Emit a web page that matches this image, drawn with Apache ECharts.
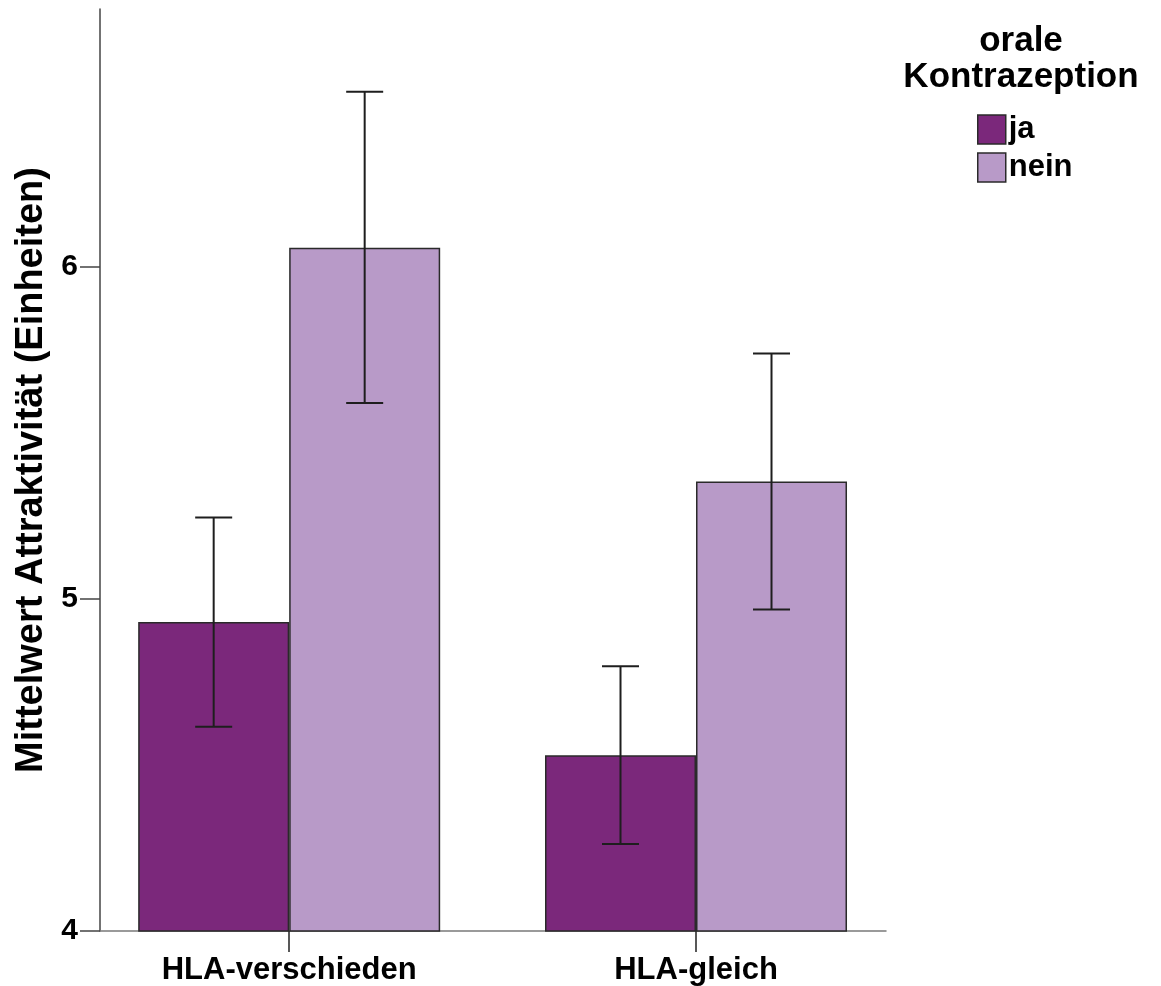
<!DOCTYPE html>
<html>
<head>
<meta charset="utf-8">
<title>Mittelwert Attraktivität</title>
<script src="https://cdn.jsdelivr.net/npm/echarts@6/dist/echarts.min.js"></script>
<style>
  html, body { margin: 0; padding: 0; background: #ffffff; }
  #chart { width: 1161px; height: 986px; }
</style>
</head>
<body>
<div id="chart"></div>
<script>
// HLA groups on the x axis (placed at positions 0 and 1)
const categories = ['HLA-verschieden', 'HLA-gleich'];
const groupPos = [0, 1];

// Mean attractiveness per group, split by oral contraception
const meanJa = [4.93, 4.529];
const meanNein = [6.057, 5.353];

// Error bar extents (lower, upper)
const lowJa = [4.615, 4.262];
const highJa = [5.245, 4.797];
const lowNein = [5.590, 4.968];
const highNein = [6.527, 5.739];

const yTicks = [4, 5, 6];

const FONT = '"Liberation Sans", Arial, sans-serif';
const BAR_W = 151;
const CAP_W = 37;

const colorJa = '#7b287b';
const colorNein = '#b89ac8';

function barData(means) {
  return groupPos.map((x, i) => [x, means[i]]);
}
function errData(lows, highs) {
  return groupPos.map((x, i) => [x, lows[i], highs[i]]);
}

// Whisker + caps, shifted to the centre of the matching bar
function errorRenderer(shift) {
  return function (params, api) {
    const x = api.value(0);
    const lo = api.coord([x, api.value(1)]);
    const hi = api.coord([x, api.value(2)]);
    const cx = lo[0] + shift;
    const style = { stroke: '#1e1e1e', lineWidth: 2 };
    return {
      type: 'group',
      children: [
        { type: 'line', shape: { x1: cx, y1: hi[1], x2: cx, y2: lo[1] }, style },
        { type: 'line', shape: { x1: cx - CAP_W / 2, y1: hi[1], x2: cx + CAP_W / 2, y2: hi[1] }, style },
        { type: 'line', shape: { x1: cx - CAP_W / 2, y1: lo[1], x2: cx + CAP_W / 2, y2: lo[1] }, style }
      ]
    };
  };
}

const chart = echarts.init(document.getElementById('chart'), null, { renderer: 'canvas' });

chart.setOption({
  animation: false,
  backgroundColor: '#ffffff',
  title: {
    text: 'orale\nKontrazeption',
    left: 1021,
    top: 23,
    textAlign: 'center',
    padding: 0,
    textStyle: {
      fontFamily: FONT,
      fontWeight: 'bold',
      fontSize: 35,
      lineHeight: 36,
      color: '#000'
    }
  },
  legend: {
    orient: 'vertical',
    left: 977,
    top: 114,
    padding: 0,
    itemWidth: 28,
    itemHeight: 29,
    itemGap: 7,
    icon: 'rect',
    itemStyle: { borderColor: '#2a2a2a', borderWidth: 1.5 },
    textStyle: {
      fontFamily: FONT,
      fontWeight: 'bold',
      fontSize: 31,
      color: '#000',
      padding: [0, 0, 0, -2]
    },
    data: ['ja', 'nein']
  },
  grid: {
    left: 100,
    right: 275,
    top: 9,
    bottom: 54.5,
    containLabel: false
  },
  xAxis: {
    type: 'value',
    min: -0.465,
    max: 1.467,
    splitLine: { show: false },
    axisLine: { show: true, onZero: false, lineStyle: { color: '#7a7a7a', width: 1.5 } },
    axisTick: {
      show: true,
      customValues: groupPos,
      length: 21,
      lineStyle: { color: '#222', width: 1.5 }
    },
    axisLabel: {
      customValues: groupPos,
      formatter: (v) => categories[Math.round(v)],
      fontFamily: FONT,
      fontWeight: 'bold',
      fontSize: 31,
      color: '#000',
      margin: 24
    }
  },
  yAxis: {
    type: 'value',
    min: 4,
    max: 6.776,
    name: 'Mittelwert Attraktivität (Einheiten)',
    nameLocation: 'middle',
    nameRotate: 90,
    nameGap: 49,
    nameTextStyle: {
      fontFamily: FONT,
      fontWeight: 'bold',
      fontSize: 38,
      color: '#000'
    },
    splitLine: { show: false },
    axisLine: { show: true, onZero: false, lineStyle: { color: '#444', width: 1.5 } },
    axisTick: {
      show: true,
      customValues: yTicks,
      length: 20,
      lineStyle: { color: '#444', width: 1.5 }
    },
    axisLabel: {
      customValues: yTicks,
      fontFamily: FONT,
      fontWeight: 'bold',
      fontSize: 30,
      color: '#000',
      margin: 22
    }
  },
  series: [
    {
      name: 'ja',
      type: 'bar',
      barWidth: BAR_W,
      barGap: '0%',
      data: barData(meanJa),
      itemStyle: { color: colorJa, borderColor: '#2a2a2a', borderWidth: 1.5 }
    },
    {
      name: 'nein',
      type: 'bar',
      barWidth: BAR_W,
      barGap: '0%',
      data: barData(meanNein),
      itemStyle: { color: colorNein, borderColor: '#2a2a2a', borderWidth: 1.5 }
    },
    {
      name: 'ja-err',
      type: 'custom',
      renderItem: errorRenderer(-BAR_W / 2),
      encode: { x: 0, y: [1, 2] },
      data: errData(lowJa, highJa),
      z: 5
    },
    {
      name: 'nein-err',
      type: 'custom',
      renderItem: errorRenderer(BAR_W / 2),
      encode: { x: 0, y: [1, 2] },
      data: errData(lowNein, highNein),
      z: 5
    }
  ]
});
</script>
</body>
</html>
